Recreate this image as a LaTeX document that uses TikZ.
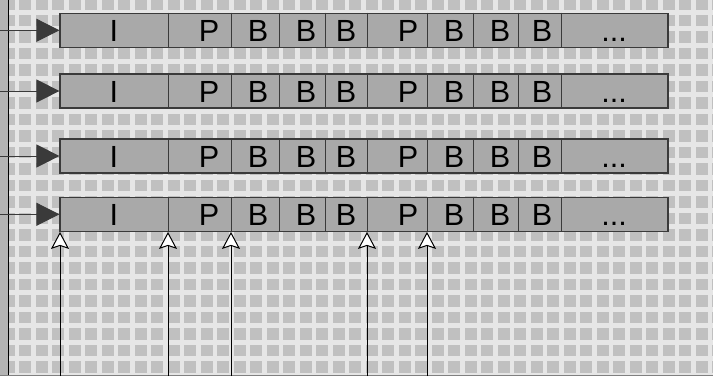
\documentclass[tikz,border=0pt]{standalone}
\usepackage{fontspec}
\setmainfont{Liberation Sans}
\usetikzlibrary{arrows.meta}
\definecolor{paper}{HTML}{E6E6E6}
\definecolor{tile}{HTML}{C0C0C0}
\definecolor{cellgray}{HTML}{A9A9A9}
\definecolor{edge}{HTML}{3A3A3A}
\definecolor{bargray}{HTML}{B4B4B4}
\newcommand{\moreframes}{...}

\begin{document}
\begin{tikzpicture}[
  x=0.5pt, y=-0.5pt,
  font=\fontsize{15.3}{16}\selectfont,
  strip/.style={draw=edge, fill=cellgray, line width=0.6pt, inner sep=0pt,
               minimum width=304pt, minimum height=17pt},
  sep/.style={draw=edge, line width=0.5pt},
  glyph/.style={anchor=base, inner sep=0pt},
  feed/.style={-{Triangle[length=11.5pt, width=11.5pt]}, line width=0.5pt, draw=edge},
  tap/.style={-{Stealth[length=8.5pt, width=9pt, inset=1.5pt, fill=white]},
             line width=0.5pt, black}
]
\useasboundingbox (0,0) rectangle (713,376);
% tiled background
\fill[paper] (0,0) rectangle (713,376);
\begin{scope}
  \clip (0,0) rectangle (713,376);
  \foreach \i in {-1,...,42}
    \foreach \j in {0,...,23}
      \fill[tile] ({19.3+16.5*\i},{-2+16.5*\j}) rectangle +(11.7,11.7);
\end{scope}
\fill[bargray] (0,0) rectangle (8,376);
\draw[black, line width=0.5pt] (8,0) -- (8,376);
\draw[gray, line width=0.5pt] (0,375.5) -- (713,375.5);

% frame sequences
\foreach \r/\top in {1/13.3, 2/74, 3/139, 4/197.3} {
  \node[strip] (row\r) at (364,\top+17) {};
  \foreach \x in {168,231,279,325,367,427,473,518,561}
    \draw[sep] (row\r.north -| \x,0) -- (row\r.south -| \x,0);
  \foreach \x/\t [count=\k] in {114/I, 209/P, 258/B, 306/B, 346/B, 408/P, 454/B, 500/B, 542/B, 614/\moreframes}
    \node[glyph] (f\r-\k) at (\x,\top+28) {\t};
  \coordinate (src\r) at (0,\top+17);
  \draw[feed] (src\r) -- (row\r.west);
}

% reference pointers
\foreach \x [count=\k] in {60,168,231,367,427} {
  \coordinate (ptr\k) at (\x,376);
  \draw[tap] (ptr\k) -- (ptr\k |- row4.south);
}
\end{tikzpicture}
\end{document}
